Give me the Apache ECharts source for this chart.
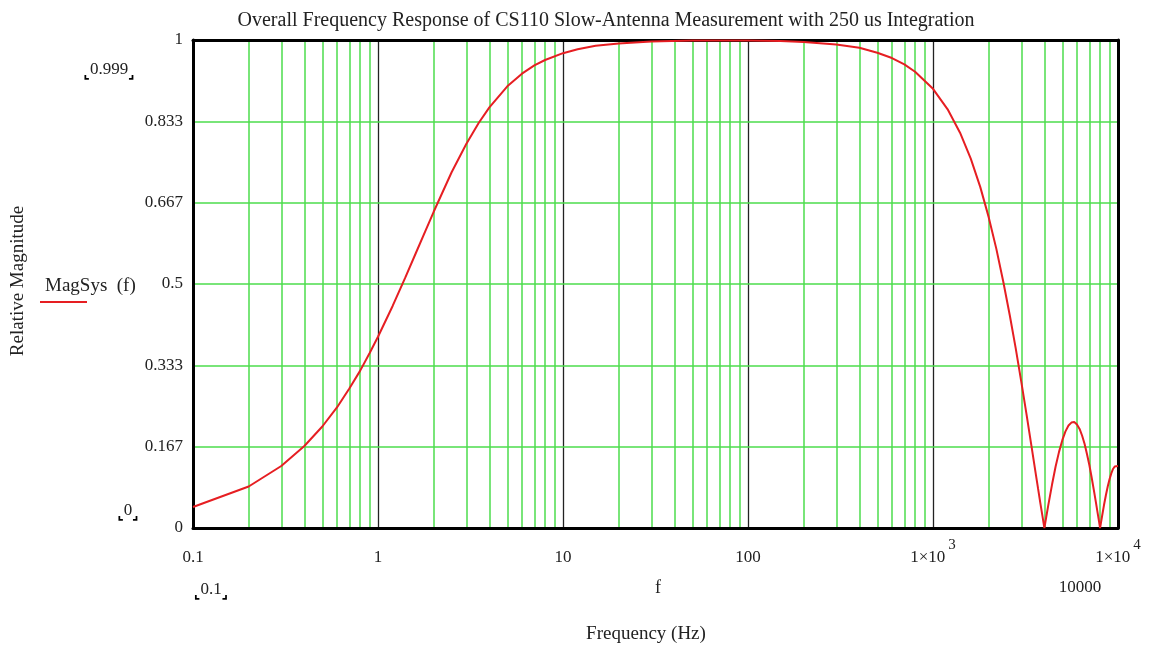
<!DOCTYPE html>
<html><head><meta charset="utf-8">
<script src="https://cdn.jsdelivr.net/npm/echarts/dist/echarts.min.js"></script>
<style>html,body{margin:0;padding:0;background:#fff}#c{width:1156px;height:650px}</style>
</head><body><div id="c"></div><script>
const frequencyHz = [0.1,0.2,0.3,0.4,0.5,0.6,0.7,0.8,0.9,1,1.2,1.4,1.6,1.8,2,2.5,3,3.5,4,5,6,7,8,10,12,15,20,30,50,70,100,150,200,300,400,500,600,700,800,1000,1200,1400,1600,1800,2000,2200,2400,2600,2800,3000,3200,3400,3600,3700,3800,3900,4000,4100,4200,4400,4600,4800,5000,5200,5400,5600,5800,6000,6200,6400,6600,6800,7000,7200,7400,7600,7800,7900,8000,8100,8200,8400,8600,8800,9000,9200,9400,9600,9800,10000];
const magSys = [0.043,0.085,0.127,0.168,0.208,0.247,0.286,0.322,0.358,0.392,0.455,0.512,0.563,0.608,0.648,0.729,0.787,0.830,0.862,0.905,0.931,0.948,0.959,0.973,0.981,0.988,0.993,0.997,0.999,0.999,0.999,0.998,0.996,0.991,0.984,0.974,0.963,0.950,0.935,0.900,0.858,0.810,0.757,0.699,0.637,0.572,0.504,0.436,0.368,0.300,0.234,0.170,0.109,0.080,0.052,0.026,0,0.024,0.047,0.089,0.126,0.156,0.180,0.198,0.210,0.216,0.217,0.212,0.203,0.189,0.172,0.151,0.129,0.104,0.078,0.052,0.026,0.013,0,0.012,0.024,0.047,0.067,0.085,0.100,0.112,0.121,0.126,0.128,0.127];
const xTickLabels = ['0.1','1','10','100','1×10^3','1×10^4'];
const yTickLabels = ['0','0.167','0.333','0.5','0.667','0.833','1'];

const SERIF = '"Liberation Serif", "Times New Roman", serif';
const GREEN = '#4cdc4c';
const RED = '#e61e22';
const seriesData = frequencyHz.map((f, i) => [f, magSys[i]]);

const minorLines = [], decadeLines = [];
[0.1, 1, 10, 100, 1000].forEach(d => {
  for (let k = 2; k <= 9; k++) minorLines.push({ xAxis: k * d });
  if (d >= 1) decadeLines.push({ xAxis: d });
});

function bracket(t) { return '{b|⌞}{t|' + t + '}{b|⌟}'; }
const bracketRich = {
  b: { fontFamily: 'DejaVu Sans', fontSize: 14, fontWeight: 'bold', fill: '#000', padding: [8, 0, 0, 0] },
  t: { fontFamily: SERIF, fontSize: 17, fill: '#222' }
};
const frameLine = { show: true, onZero: false, lineStyle: { color: '#000', width: 3 } };

const chart = echarts.init(document.getElementById('c'));
chart.setOption({
  animation: false,
  backgroundColor: '#fff',
  title: {
    text: 'Overall Frequency Response of CS110 Slow-Antenna Measurement with 250 us Integration',
    left: 601, top: 6, textAlign: 'center',
    textStyle: { fontFamily: SERIF, fontSize: 20, fontWeight: 'normal', color: '#222' }
  },
  grid: { left: 193, right: 38, top: 40, bottom: 122, show: false, outerBoundsMode: 'none', containLabel: false },
  xAxis: [{
    type: 'log', logBase: 10, min: 0.1, max: 10000, splitNumber: 5, position: 'bottom', z: 10,
    axisLine: frameLine,
    axisTick: { show: false },
    splitLine: { show: false },
    minorTick: { show: false }, minorSplitLine: { show: false },
    axisLabel: {
      margin: 10, showMinLabel: true, showMaxLabel: true, hideOverlap: false,
      formatter: function (v) {
        const idx = Math.round(Math.log10(v)) + 1;
        const s = xTickLabels[idx] || '';
        const p = s.split('^');
        return p.length > 1 ? '{m|' + p[0] + '}{e|' + p[1] + '}' : '{m|' + s + '}';
      },
      rich: {
        m: { fontFamily: SERIF, fontSize: 17, color: '#222', lineHeight: 28, verticalAlign: 'bottom' },
        e: { fontFamily: SERIF, fontSize: 15, color: '#222', lineHeight: 14, verticalAlign: 'top', padding: [0, 0, 0, 3] }
      }
    }
  }, {
    type: 'log', logBase: 10, min: 0.1, max: 10000, position: 'top', z: 10,
    axisLine: frameLine, axisTick: { show: false }, axisLabel: { show: false },
    splitLine: { show: false }, minorTick: { show: false }, minorSplitLine: { show: false }
  }],
  yAxis: [{
    type: 'value', min: 0, max: 1, interval: 1 / 6, position: 'left', z: 10,
    axisLine: frameLine, axisTick: { show: false },
    splitLine: { show: true, showMinLine: false, showMaxLine: false, lineStyle: { color: GREEN, width: 1.5 } },
    axisLabel: {
      margin: 10, fontFamily: SERIF, fontSize: 17, color: '#222',
      formatter: function (v, i) { return yTickLabels[i]; }
    }
  }, {
    type: 'value', min: 0, max: 1, position: 'right', z: 10,
    axisLine: frameLine, axisTick: { show: false }, axisLabel: { show: false }, splitLine: { show: false }
  }],
  series: [
    {
      type: 'line', data: [], z: 1, silent: true,
      markLine: {
        silent: true, symbol: ['none', 'none'], animation: false,
        label: { show: false },
        lineStyle: { type: 'solid', color: GREEN, width: 1.5 },
        emphasis: { disabled: true },
        data: minorLines
      }
    },
    {
      type: 'line', data: [], z: 1, silent: true,
      markLine: {
        silent: true, symbol: ['none', 'none'], animation: false,
        label: { show: false },
        lineStyle: { type: 'solid', color: '#222', width: 1.3 },
        emphasis: { disabled: true },
        data: decadeLines
      }
    },
    {
      name: 'MagSys (f)', type: 'line', data: seriesData, z: 12,
      showSymbol: false, smooth: false,
      lineStyle: { color: RED, width: 2 },
      itemStyle: { color: RED }
    }
  ],
  graphic: [
    { type: 'text', x: 18, y: 281, rotation: Math.PI / 2,
      style: { text: 'Relative Magnitude', fontFamily: SERIF, fontSize: 19, fill: '#222', align: 'center', verticalAlign: 'middle' } },
    { type: 'text', x: 45, y: 286,
      style: { text: 'MagSys  (f)', fontFamily: SERIF, fontSize: 19, fill: '#222', align: 'left', verticalAlign: 'middle' } },
    { type: 'line', shape: { x1: 40, y1: 302, x2: 87, y2: 302 }, style: { stroke: RED, lineWidth: 2 } },
    { type: 'text', x: 109, y: 70,
      style: { text: bracket('0.999'), rich: bracketRich, align: 'center', verticalAlign: 'middle' } },
    { type: 'text', x: 128, y: 511,
      style: { text: bracket('0'), rich: bracketRich, align: 'center', verticalAlign: 'middle' } },
    { type: 'text', x: 211, y: 590,
      style: { text: bracket('0.1'), rich: bracketRich, align: 'center', verticalAlign: 'middle' } },
    { type: 'text', x: 658, y: 588,
      style: { text: 'f', fontFamily: SERIF, fontSize: 18, fill: '#222', align: 'center', verticalAlign: 'middle' } },
    { type: 'text', x: 1080, y: 588,
      style: { text: '10000', fontFamily: SERIF, fontSize: 17, fill: '#222', align: 'center', verticalAlign: 'middle' } },
    { type: 'text', x: 646, y: 634,
      style: { text: 'Frequency (Hz)', fontFamily: SERIF, fontSize: 19, fill: '#222', align: 'center', verticalAlign: 'middle' } }
  ]
});
</script></body></html>
